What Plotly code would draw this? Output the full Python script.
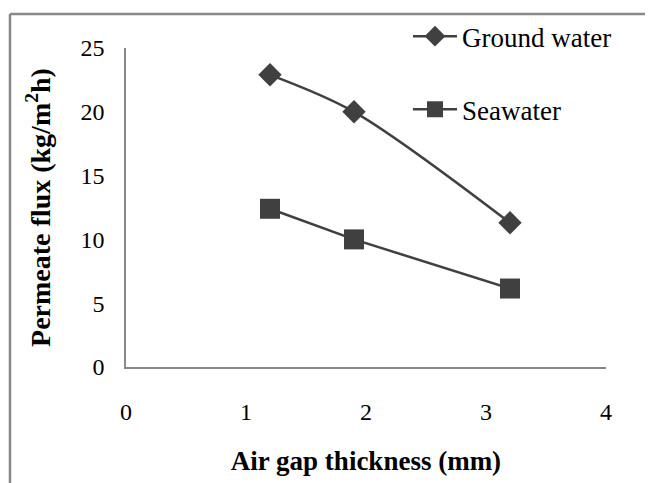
import plotly.graph_objects as go

air_gap = [1.2, 1.9, 3.2]
ground_water = [22.9, 20.0, 11.3]
seawater = [12.4, 10.0, 6.15]
x_ticks = [0, 1, 2, 3, 4]
y_ticks = [0, 5, 10, 15, 20, 25]

col = "#404040"
font_family = "Liberation Serif, Times New Roman, serif"

fig = go.Figure()
fig.add_trace(go.Scatter(
    x=air_gap, y=ground_water, name="Ground water", mode="lines+markers",
    line=dict(color=col, width=2.5, shape="spline", smoothing=0.9),
    marker=dict(symbol="diamond", size=18, color=col),
    legendgroup="a",
))
fig.add_trace(go.Scatter(
    x=air_gap, y=seawater, name="Seawater", mode="lines+markers",
    line=dict(color=col, width=2.5),
    marker=dict(symbol="square", size=20, color=col),
    legendgroup="b",
))

fig.update_layout(
    width=645, height=475,
    margin=dict(l=118, r=47, t=40, b=116, autoexpand=False),
    paper_bgcolor="white", plot_bgcolor="white",
    font=dict(family=font_family, size=24, color="black"),
    showlegend=True,
    legend=dict(x=0.5875, y=1.1125, xanchor="left", yanchor="top",
                font=dict(family=font_family, size=27, color="black"),
                tracegroupgap=35,
                bgcolor="rgba(0,0,0,0)", itemwidth=44),
    xaxis=dict(range=[0, 4], tickvals=x_ticks, showgrid=False, zeroline=False,
               showline=True, linecolor="#888888", linewidth=1.5,
               ticks="", ticklabelstandoff=22,
               tickfont=dict(family=font_family, size=24, color="black"),
               title=dict(text="<b>Air gap thickness (mm)</b>",
                          font=dict(family=font_family, size=27, color="black"), standoff=28)),
    yaxis=dict(range=[0, 25], tickvals=y_ticks, showgrid=False, zeroline=False,
               showline=True, linecolor="#888888", linewidth=1.5,
               ticks="", ticklabelstandoff=15,
               tickfont=dict(family=font_family, size=24, color="black"),
               title=dict(text="<b>Permeate flux (kg/m<sup>2</sup>h)</b>",
                          font=dict(family=font_family, size=28, color="black"), standoff=22)),
)

# outer chart frame (top and left edges visible)
fig.add_shape(type="line", xref="paper", yref="paper",
              x0=-0.2417, x1=1.2, y0=1.1066, y1=1.1066,
              line=dict(color="#888888", width=2.5))
fig.add_shape(type="line", xref="paper", yref="paper",
              x0=-0.2417, x1=-0.2417, y0=1.1066, y1=-0.5,
              line=dict(color="#888888", width=2.5))

fig.write_html("out.html")
